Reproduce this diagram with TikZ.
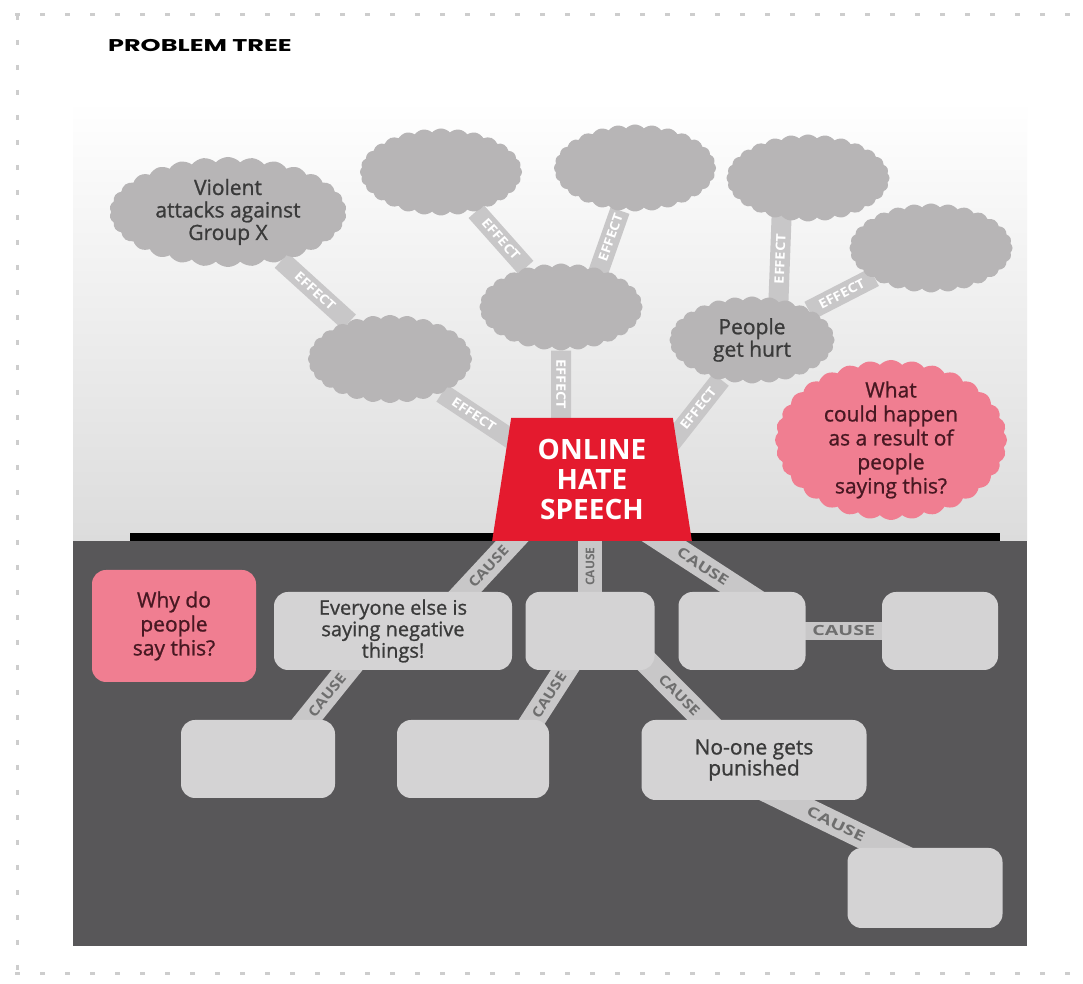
\documentclass[tikz,border=0pt]{standalone}
\usepackage{fontspec}
\usepackage{graphicx}
\setmainfont{Open Sans}
\newfontfamily\bodyfont{Open Sans}[FakeBold=1]
\newfontfamily\titlefont{Poppins}
\usetikzlibrary{shapes.symbols,shapes.geometric}

\definecolor{cloudColor}{RGB}{183,181,182}
\definecolor{boxColor}{RGB}{212,211,212}
\definecolor{groundColor}{RGB}{88,87,89}
\definecolor{skyColor}{RGB}{220,220,220}
\definecolor{hateColor}{RGB}{228,26,46}
\definecolor{pinkColor}{RGB}{240,126,145}
\definecolor{pinkText}{RGB}{72,24,34}
\definecolor{textColor}{RGB}{58,58,58}
\definecolor{bandColor}{RGB}{200,199,200}
\definecolor{bandText}{RGB}{110,110,110}
\definecolor{dotColor}{RGB}{205,205,205}

\newcommand\wideword[2]{\scalebox{#1}[1]{#2}}

\pgfdeclarelayer{back}
\pgfdeclarelayer{band}
\pgfsetlayers{back,band,main}

\tikzset{
  effectCloud/.style={cloud, cloud puffs=28, cloud puff arc=95, cloud ignores aspect,
    fill=cloudColor, inner sep=0pt, align=center, text=textColor,
    font=\bodyfont\fontsize{21}{22.5}\selectfont},
  whatCloud/.style={effectCloud, fill=pinkColor, text=pinkText,
    font=\bodyfont\fontsize{21}{24}\selectfont},
  causeBox/.style={rectangle, rounded corners=14pt, fill=boxColor, inner sep=0pt,
    align=center, text=textColor, font=\bodyfont\fontsize{20}{21.5}\selectfont},
  pinkBox/.style={causeBox, fill=pinkColor, text=pinkText,
    font=\bodyfont\fontsize{21}{24}\selectfont},
  hateBox/.style={trapezium, trapezium left angle=81, trapezium right angle=81,
    trapezium stretches=true, minimum width=200pt, minimum height=123pt,
    inner sep=0pt, fill=hateColor, text=white, align=center,
    font=\bfseries\fontsize{28}{30}\selectfont},
  effectBand/.style={draw=bandColor, line width=20pt},
  causeBand/.style={draw=bandColor, line width=24pt, shorten <=-26pt, shorten >=-26pt},
  bandLabel/.style={sloped, inner sep=0pt, text=white,
    font=\bfseries\fontsize{13}{13}\selectfont},
  causeLabel/.style={bandLabel, text=bandText, font=\bfseries\fontsize{14}{14}\selectfont},
  dots/.style={draw=dotColor, line width=3pt, dash pattern=on 5pt off 20pt}
}

\begin{document}
\begin{tikzpicture}[x=1pt,y=1pt]
\useasboundingbox (0,0) rectangle (1083,984);

\begin{pgfonlayer}{back}
\fill[white] (0,0) rectangle (1083,984);
\draw[dots] (15,969) -- (1083,969);
\draw[dots] (17,969) -- (17,10);
\draw[dots] (15,10) -- (1083,10);
\shade[top color=white, bottom color=skyColor] (73,443) rectangle (1027,884);
\fill[groundColor] (73,38) rectangle (1027,443);
\fill[black] (130,443) rectangle (1000,451);
\end{pgfonlayer}

\node[anchor=west, inner sep=0pt] (title) at (108,938)
  {\wideword{1.5}{\titlefont\bfseries\fontsize{17}{17}\selectfont PROBLEM TREE}};

% effects
\node[effectCloud, cloud puffs=30, minimum width=237pt, minimum height=110pt] (violent) at (228,772) {Violent\\attacks against\\Group X};
\node[effectCloud, minimum width=162pt, minimum height=87pt] (effTwo) at (441,812) {};
\node[effectCloud, minimum width=162pt, minimum height=87pt] (effThree) at (635,816) {};
\node[effectCloud, minimum width=163pt, minimum height=87pt] (effFour) at (808,806) {};
\node[effectCloud, minimum width=163pt, minimum height=89pt] (effFive) at (931,736) {};
\node[effectCloud, minimum width=163pt, minimum height=87pt] (effSix) at (561,677) {};
\node[effectCloud, minimum width=164pt, minimum height=88pt] (effSeven) at (390,625) {};
\node[effectCloud, minimum width=165pt, minimum height=87pt] (hurt) at (752,644) {People\\get hurt};
\node[whatCloud, cloud puffs=32, minimum width=232pt, minimum height=160pt, inner sep=-12pt] (whatQ) at (891,544) {What\\could happen\\as a result of\\people\\saying this?};

\node[hateBox] (hate) at (592,504.5) {ONLINE\\HATE\\SPEECH};

% causes
\node[pinkBox, minimum width=164pt, minimum height=112pt] (whyQ) at (174,358) {Why do\\people\\say this?};
\node[causeBox, minimum width=238pt, minimum height=78pt] (everyone) at (393,353) {Everyone else is\\saying negative\\things!};
\node[causeBox, minimum width=129pt, minimum height=78pt] (causeMid) at (590,353) {};
\node[causeBox, minimum width=127pt, minimum height=78pt] (causeRight) at (742,353) {};
\node[causeBox, minimum width=116pt, minimum height=78pt] (causeFar) at (940,353) {};
\node[causeBox, minimum width=154pt, minimum height=78pt] (causeBL) at (258,225) {};
\node[causeBox, minimum width=152pt, minimum height=78pt] (causeBM) at (473,225) {};
\node[causeBox, font=\bodyfont\fontsize{21}{21}\selectfont, minimum width=225pt, minimum height=80pt] (noOne) at (754,224) {No-one gets\\punished};
\node[causeBox, minimum width=155pt, minimum height=80pt] (causeBR) at (925,96) {};

\begin{pgfonlayer}{band}
\draw[effectBand] (effSeven) -- (violent) node[bandLabel, pos=.5] {\wideword{1.12}{EFFECT}};
\draw[effectBand] (effSix) -- (effTwo) node[bandLabel, pos=.5] {\wideword{1.12}{EFFECT}};
\draw[effectBand] ([xshift=25pt]effSix.center) -- (effThree) node[bandLabel, pos=.72] {\wideword{1.12}{EFFECT}};
\draw[effectBand] (effSix) -- (effSix |- hate.center) node[bandLabel, pos=.26] {\wideword{1.12}{EFFECT}};
\draw[effectBand] ([xshift=-50pt,yshift=20pt]hate.center) -- (effSeven) node[bandLabel, pos=.68] {\wideword{1.12}{EFFECT}};
\draw[effectBand] (hurt) -- ([xshift=58pt,yshift=10pt]hate.center) node[bandLabel, pos=.32] {\wideword{1.12}{EFFECT}};
\draw[effectBand] ([xshift=25pt]hurt.center) -- ([xshift=-25pt]effFour.center) node[bandLabel, pos=.5] {\wideword{1.12}{EFFECT}};
\draw[effectBand] (hurt) -- (effFive) node[bandLabel, pos=.5] {\wideword{1.12}{EFFECT}};

\draw[causeBand] ([xshift=-80pt]hate.south) -- ([xshift=72pt]everyone.north) node[causeLabel, midway] {\wideword{1.15}{CAUSE}};
\draw[causeBand] (causeMid.north) -- (causeMid |- hate.south) node[causeLabel, midway, font=\bfseries\fontsize{12}{12}\selectfont] {CAUSE};
\draw[causeBand] ([xshift=72pt]hate.south) -- (causeRight.north) node[causeLabel, midway] {\wideword{1.3}{CAUSE}};
\draw[causeBand, line width=18pt] (causeRight.east) -- (causeFar.west) node[causeLabel, midway] {\wideword{1.4}{CAUSE}};
\draw[causeBand] ([xshift=-46pt]everyone.south) -- ([xshift=49pt]causeBL.north) node[causeLabel, midway] {\wideword{1.15}{CAUSE}};
\draw[causeBand] ([xshift=-25pt]causeMid.south) -- ([xshift=60pt]causeBM.north) node[causeLabel, midway] {\wideword{1.15}{CAUSE}};
\draw[causeBand] (causeMid.south east) -- ([xshift=-50pt]noOne.north) node[causeLabel, midway] {\wideword{1.15}{CAUSE}};
\draw[causeBand] ([xshift=33pt]noOne.south) -- ([xshift=-40pt]causeBR.north) node[causeLabel, midway] {\wideword{1.4}{CAUSE}};
\end{pgfonlayer}
\end{tikzpicture}
\end{document}
